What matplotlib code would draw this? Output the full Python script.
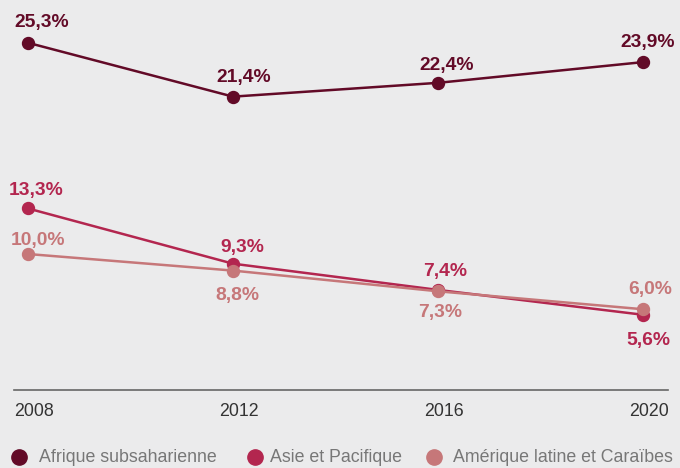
import matplotlib
matplotlib.use("Agg")
import matplotlib.pyplot as plt
import matplotlib.transforms as mtrans
from matplotlib.lines import Line2D

years = [2008, 2012, 2016, 2020]
afrique = [25.3, 21.4, 22.4, 23.9]
asie = [13.3, 9.3, 7.4, 5.6]
amerique = [10.0, 8.8, 7.3, 6.0]
series_names = ["Afrique subsaharienne", "Asie et Pacifique", "Amérique latine et Caraïbes"]
colors = ["#620a27", "#b3264f", "#c67779"]

# label offsets in points (dx, dy)
offsets = [
    [(10, 14.8), (8, 14), (6.5, 12.6), (3.6, 14)],
    [(5.8, 12.6), (6.5, 11.9), (5, 13.3), (3.6, -18.4)],
    [(7.2, 9.7), (2.9, -17.6), (1.4, -15.5), (5, 14)],
]

plt.rcParams['font.family'] = ['Liberation Sans', 'DejaVu Sans']
bg = "#ebebec"
fig = plt.figure(figsize=(6.8, 4.68), dpi=100, facecolor=bg)
ax = fig.add_axes([14/680, 78/468, 654/680, 390/468])
ax.set_facecolor(bg)

for vals, col, offs in zip([afrique, asie, amerique], colors, offsets):
    ax.plot(years, vals, color=col, lw=1.8, marker="o", ms=8.6, zorder=3)
    for x, y, (dx, dy) in zip(years, vals, offs):
        ax.annotate(f"{y:.1f}".replace(".", ",") + "%", (x, y),
                    xytext=(dx, dy), textcoords="offset points",
                    ha="center", va="center", fontsize=13.9,
                    fontweight="bold", color=col)

ax.set_xlim(2008 - 14/51.25, 2020 + 25/51.25)
ax.set_ylim(0.15, 28.4)
for s in ["top", "right", "left"]:
    ax.spines[s].set_visible(False)
ax.spines["bottom"].set_color("#666666")
ax.spines["bottom"].set_linewidth(1.2)
ax.set_yticks([])
ax.set_xticks(years)
ax.set_xticklabels([str(y) for y in years], fontsize=12.8, color="#333333")
ax.tick_params(axis="x", length=0, pad=9)
shift = mtrans.ScaledTranslation(6/100, 0, fig.dpi_scale_trans)
for lbl in ax.get_xticklabels():
    lbl.set_transform(lbl.get_transform() + shift)

# legend, placed manually
leg_marker_x = [19, 255, 434]
leg_text_x = [39, 270, 453]
leg_y = 1 - 457/468
for name, col, mx, tx in zip(series_names, colors, leg_marker_x, leg_text_x):
    fig.add_artist(Line2D([mx/680], [leg_y], transform=fig.transFigure,
                          ls="none", marker="o", ms=11, color=col))
    fig.text(tx/680, leg_y, name, ha="left", va="center", fontsize=12.8, color="#777777")

fig.savefig("out.png", dpi=100, facecolor=bg)
